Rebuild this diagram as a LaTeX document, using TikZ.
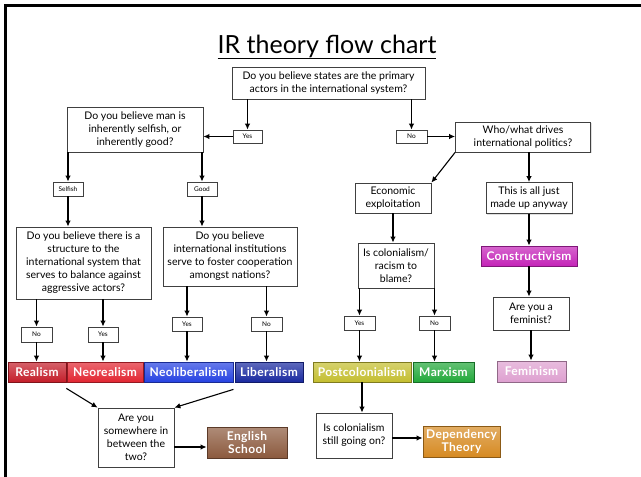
\documentclass[tikz,border=0pt]{standalone}
\usepackage{fontspec}
\setmainfont{Lato}
\usetikzlibrary{arrows.meta,shadows}

\definecolor{realred}{RGB}{196,30,42}
\definecolor{neored}{RGB}{226,38,50}
\definecolor{neoblue}{RGB}{38,66,226}
\definecolor{libblue}{RGB}{26,42,160}
\definecolor{postyellow}{RGB}{196,190,48}
\definecolor{marxgreen}{RGB}{34,168,58}
\definecolor{conmagenta}{RGB}{196,36,184}
\definecolor{fempink}{RGB}{222,160,208}
\definecolor{engbrown}{RGB}{140,90,62}
\definecolor{deporange}{RGB}{214,138,34}

\begin{document}
\begin{tikzpicture}[
  x=1pt, y=-1pt,
  sz/.style 2 args={minimum width=#1pt, minimum height=#2pt},
  box/.style={draw=black!75, fill=white, line width=0.8pt, align=center, inner sep=1pt,
    font=\fontsize{10.5}{13}\selectfont,
    drop shadow={opacity=.25, shadow xshift=1.2pt, shadow yshift=-1.2pt}},
  tag/.style={box, font=\fontsize{6.5}{8}\selectfont},
  res/.style={draw=#1!65!black, line width=0.8pt, top color=#1!70!white, bottom color=#1,
    text=white, align=center, inner sep=1pt,
    font=\fontsize{12}{13.5}\selectfont\bfseries\addfontfeature{LetterSpace=3},
    drop shadow={opacity=.3, shadow xshift=1.2pt, shadow yshift=-1.2pt}},
  arr/.style={-{Latex[length=6pt,width=5.5pt]}, line width=1.1pt}
]
\useasboundingbox (0,0) rectangle (641,477);

% slide frame and title
\draw[line width=2.5pt] (5.5,477) -- (5.5,5.5) -- (641,5.5);
\node[anchor=base, font=\fontsize{25}{30}\selectfont] (title) at (327,53) {\underline{IR theory flow chart}};

% --- top question ---
\node[box, sz={193}{32}] (states) at (328.5,83) {Do you believe states are the primary\\actors in the international system?};
\node[tag, sz={29}{13}] (yesA) at (247.5,136.5) {Yes};
\node[tag, sz={31}{13}] (noA) at (411.5,136.5) {No};
\node[box, sz={136}{45}] (man) at (135,129.5) {Do you believe man is\\inherently selfish, or\\inherently good?};
\node[box, sz={135}{30}] (drives) at (523,137) {Who/what drives\\international politics?};

\draw[arr] (yesA |- states.south) -- (yesA);
\draw[arr] (noA |- states.south) -- (noA);
\draw[arr] (yesA) -- (yesA -| man.east);
\draw[arr] (noA) -- (noA -| drives.west);

% --- states side ---
\node[tag, sz={30}{14}] (selfish) at (68,189) {Selfish};
\node[tag, sz={30}{14}] (good) at (202,189) {Good};
\node[box, sz={135}{72}] (struct) at (83.5,263) {Do you believe there is a\\structure to the\\international system that\\serves to balance against\\aggressive actors?};
\node[box, sz={134}{59}] (inst) at (230,256.5) {Do you believe\\international institutions\\serve to foster cooperation\\amongst nations?};
\node[tag, sz={31}{15}] (noS) at (36.5,334.5) {No};
\node[tag, sz={30}{15}] (yesS) at (103,334.5) {Yes};
\node[tag, sz={30}{14}] (yesI) at (187,324) {Yes};
\node[tag, sz={31}{14}] (noI) at (266.5,324) {No};

\node[res=realred, sz={58}{20}] (realism) at (37,372) {Realism};
\node[res=neored, sz={76}{20}] (neorealism) at (105,372) {Neorealism};
\node[res=neoblue, sz={89}{20}] (neoliberalism) at (188.5,372) {Neoliberalism};
\node[res=libblue, sz={68}{20}] (liberalism) at (269,372) {Liberalism};

\node[box, sz={76}{59}] (between) at (136,437.5) {Are you\\somewhere in\\between the\\two?};
\node[res=engbrown, sz={80}{31}] (english) at (247,442.5) {English\\School};

\draw[arr] (selfish |- man.south) -- (selfish);
\draw[arr] (good |- man.south) -- (good);
\draw[arr] (selfish) -- (selfish |- struct.north);
\draw[arr] (good) -- (good |- inst.north);
\draw[arr] (noS |- struct.south) -- (noS);
\draw[arr] (yesS |- struct.south) -- (yesS);
\draw[arr] (yesI |- inst.south) -- (yesI);
\draw[arr] (noI |- inst.south) -- (noI);
\draw[arr] (noS) -- (noS |- realism.north);
\draw[arr] (yesS) -- (yesS |- neorealism.north);
\draw[arr] (yesI) -- (yesI |- neoliberalism.north);
\draw[arr] (noI) -- (noI |- liberalism.north);
\draw[arr] ([yshift=-6pt]realism.south east) -- (between.north west);
\draw[arr] ([yshift=-7pt]neoliberalism.south east) -- (between.north east);
\draw[arr] ([yshift=-4.5pt]english.west -| between.east) -- ([yshift=-4.5pt]english.west);

% --- non-state side ---
\node[box, sz={76}{30}] (econ) at (393,198) {Economic\\exploitation};
\node[box, sz={86}{31}] (made) at (529,198) {This is all just\\made up anyway};
\node[box, sz={76}{45}] (colonial) at (396,265.5) {Is colonialism/\\racism to\\blame?};
\node[tag, sz={31}{14}] (yesC) at (359.5,323) {Yes};
\node[tag, sz={31}{14}] (noC) at (434.5,323) {No};
\node[res=postyellow, sz={98}{20}] (postcol) at (362,372) {Postcolonialism};
\node[res=marxgreen, sz={61}{20}] (marxism) at (443.5,372) {Marxism};
\node[res=conmagenta, sz={96}{20}] (constr) at (529,256) {Constructivism};
\node[box, sz={76}{33}] (feminist) at (531,313.5) {Are you a\\feminist?};
\node[res=fempink, sz={69}{21}] (feminism) at (531.5,371.5) {Feminism};
\node[box, sz={76}{45}] (still) at (354,435.5) {Is colonialism\\still going on?};
\node[res=deporange, sz={77}{31}] (dependency) at (461.5,441.5) {Dependency\\Theory};

\draw[arr] (drives.south west) -- (econ.north east);
\draw[arr] (made |- drives.south) -- (made);
\draw[arr] (econ) -- (econ |- colonial.north);
\draw[arr] (yesC |- colonial.south) -- (yesC);
\draw[arr] (noC |- colonial.south) -- (noC);
\draw[arr] (yesC) -- (yesC |- postcol.north);
\draw[arr] (noC) -- (noC |- marxism.north);
\draw[arr] (made) -- (made |- constr.north);
\draw[arr] (constr) -- (constr |- feminist.north);
\draw[arr] (feminist) -- (feminist |- feminism.north);
\draw[arr] (postcol) -- (postcol |- still.north);
\draw[arr] ([yshift=3.5pt]dependency.west -| still.east) -- ([yshift=3.5pt]dependency.west);

\end{tikzpicture}
\end{document}
